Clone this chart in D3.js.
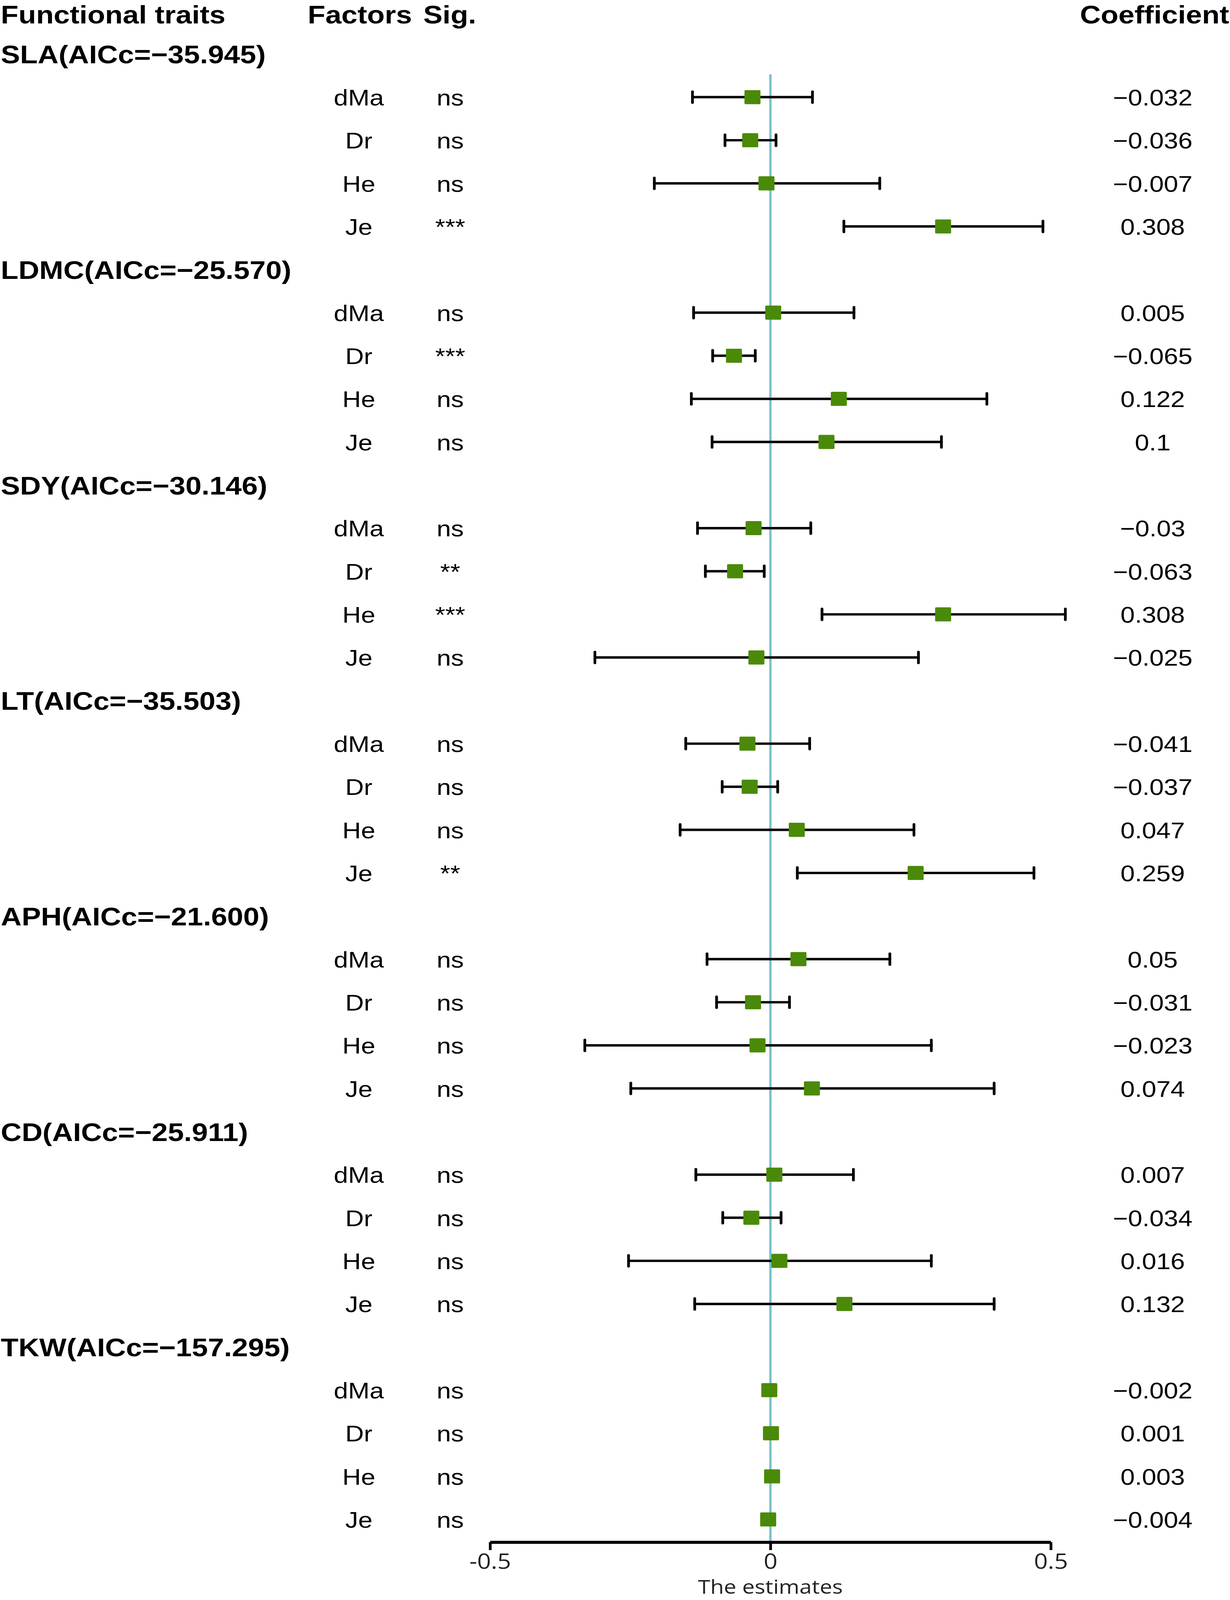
<!DOCTYPE html>
<html>
<head>
<meta charset="utf-8">
<script src="https://cdn.jsdelivr.net/npm/d3@7"></script>
<style>
  html, body { margin: 0; padding: 0; background: #fff; overflow: hidden; }
  svg { display: block; }
  text { font-family: "Liberation Sans", Arial, sans-serif; fill: #000; }
  .bold { font-weight: bold; font-size: 74px; }
  .reg { font-size: 66px; }
  .axis text { font-family: "Open Sans", sans-serif; font-size: 62px; fill: #222; }
</style>
</head>
<body>
<svg id="canvas"></svg>
<script>
// traits and their models
const traits = ["SLA", "LDMC", "SDY", "LT", "APH", "CD", "TKW"];
const aicc = [-35.945, -25.570, -30.146, -35.503, -21.600, -25.911, -157.295];
const factors = ["dMa", "Dr", "He", "Je"];

// estimates per trait (dMa, Dr, He, Je)
const estimates = [
  [-0.032, -0.036, -0.007, 0.308],
  [0.005, -0.065, 0.122, 0.1],
  [-0.03, -0.063, 0.308, -0.025],
  [-0.041, -0.037, 0.047, 0.259],
  [0.05, -0.031, -0.023, 0.074],
  [0.007, -0.034, 0.016, 0.132],
  [-0.002, 0.001, 0.003, -0.004]
];
const lower = [
  [-0.139, -0.081, -0.207, 0.131],
  [-0.137, -0.103, -0.141, -0.104],
  [-0.130, -0.116, 0.092, -0.313],
  [-0.151, -0.086, -0.161, 0.048],
  [-0.113, -0.096, -0.331, -0.249],
  [-0.133, -0.085, -0.253, -0.135],
  [-0.007, -0.004, -0.002, -0.009]
];
const upper = [
  [0.075, 0.010, 0.195, 0.486],
  [0.149, -0.027, 0.386, 0.305],
  [0.072, -0.011, 0.526, 0.264],
  [0.070, 0.013, 0.256, 0.470],
  [0.213, 0.034, 0.287, 0.399],
  [0.148, 0.019, 0.287, 0.399],
  [0.003, 0.006, 0.008, 0.001]
];
const sig = [
  ["ns", "ns", "ns", "***"],
  ["ns", "***", "ns", "ns"],
  ["ns", "**", "***", "ns"],
  ["ns", "ns", "ns", "**"],
  ["ns", "ns", "ns", "ns"],
  ["ns", "ns", "ns", "ns"],
  ["ns", "ns", "ns", "ns"]
];
const xTicks = [-0.5, 0, 0.5];

// chart is laid out at 3150x4648 and fitted to whatever the window gives
const width = 3150, height = 4648;
const svg = d3.select("#canvas")
  .attr("width", window.innerWidth || width)
  .attr("height", window.innerHeight || height)
  .attr("viewBox", `0 0 ${width} ${height}`)
  .attr("preserveAspectRatio", "none");

const minus = s => s.replace("-", "\u2212");

// flatten to rows: a header row then four factor rows per trait
const rows = [];
traits.forEach((t, i) => {
  rows.push({type: "head", label: t + "(AICc=" + minus(d3.format(".3f")(aicc[i])) + ")"});
  factors.forEach((f, j) => {
    rows.push({type: "row", factor: f, est: estimates[i][j], lo: lower[i][j], hi: upper[i][j], sig: sig[i][j]});
  });
});

const x = d3.scaleLinear().domain([-0.5, 0.5]).range([1255, 2691]);
const y = d3.scaleLinear().domain([0, rows.length - 1]).range([157, 4414]);
const axisY = 4480;

// column titles
svg.append("text").attr("class", "bold").attr("x", 2).attr("y", 68).text("Functional traits");
svg.append("text").attr("class", "bold").attr("x", 788).attr("y", 68).text("Factors");
svg.append("text").attr("class", "bold").attr("x", 1084).attr("y", 68).text("Sig.");
svg.append("text").attr("class", "bold").attr("x", 3148).attr("y", 68).attr("text-anchor", "end").text("Coefficient");

// zero line
svg.append("line")
  .attr("x1", x(0)).attr("x2", x(0))
  .attr("y1", 216).attr("y2", axisY)
  .attr("stroke", "#78c3ca").attr("stroke-width", 6);

rows.forEach((r, i) => {
  const cy = y(i);
  if (r.type === "head") {
    svg.append("text").attr("class", "bold").attr("x", 2).attr("y", cy + 27).text(r.label);
    return;
  }
  svg.append("text").attr("class", "reg").attr("x", 919).attr("y", cy + 24)
    .attr("text-anchor", "middle").text(r.factor);
  svg.append("text").attr("class", "reg").attr("x", 1153).attr("y", cy + 24)
    .attr("text-anchor", "middle").text(r.sig);
  svg.append("text").attr("class", "reg").attr("x", 2952).attr("y", cy + 24)
    .attr("text-anchor", "middle").text(minus(String(r.est)));

  // error bar
  const g = svg.append("g").attr("stroke", "#000").attr("stroke-width", 7).attr("stroke-linecap", "round");
  g.append("line").attr("x1", x(r.lo)).attr("x2", x(r.hi)).attr("y1", cy).attr("y2", cy);
  g.append("line").attr("x1", x(r.lo)).attr("x2", x(r.lo)).attr("y1", cy - 16).attr("y2", cy + 16);
  g.append("line").attr("x1", x(r.hi)).attr("x2", x(r.hi)).attr("y1", cy - 16).attr("y2", cy + 16);

  svg.append("rect")
    .attr("x", x(r.est) - 20.5).attr("y", cy - 20.5)
    .attr("width", 41).attr("height", 41).attr("rx", 3)
    .attr("fill", "#4a8a08");
});

// x axis
const axis = svg.append("g").attr("class", "axis")
  .attr("transform", `translate(0,${axisY})`)
  .call(d3.axisBottom(x).tickValues(xTicks).tickFormat(d => String(d))
    .tickSize(23).tickSizeOuter(0).tickPadding(10));
axis.select(".domain").attr("stroke", "#000").attr("stroke-width", 9);
axis.selectAll(".tick line").attr("stroke", "#000").attr("stroke-width", 7);

svg.append("text")
  .attr("x", x(0)).attr("y", 4630)
  .attr("text-anchor", "middle")
  .style("font-family", "'Open Sans', sans-serif").style("font-size", "57px").style("fill", "#222")
  .text("The estimates");
</script>
</body>
</html>
